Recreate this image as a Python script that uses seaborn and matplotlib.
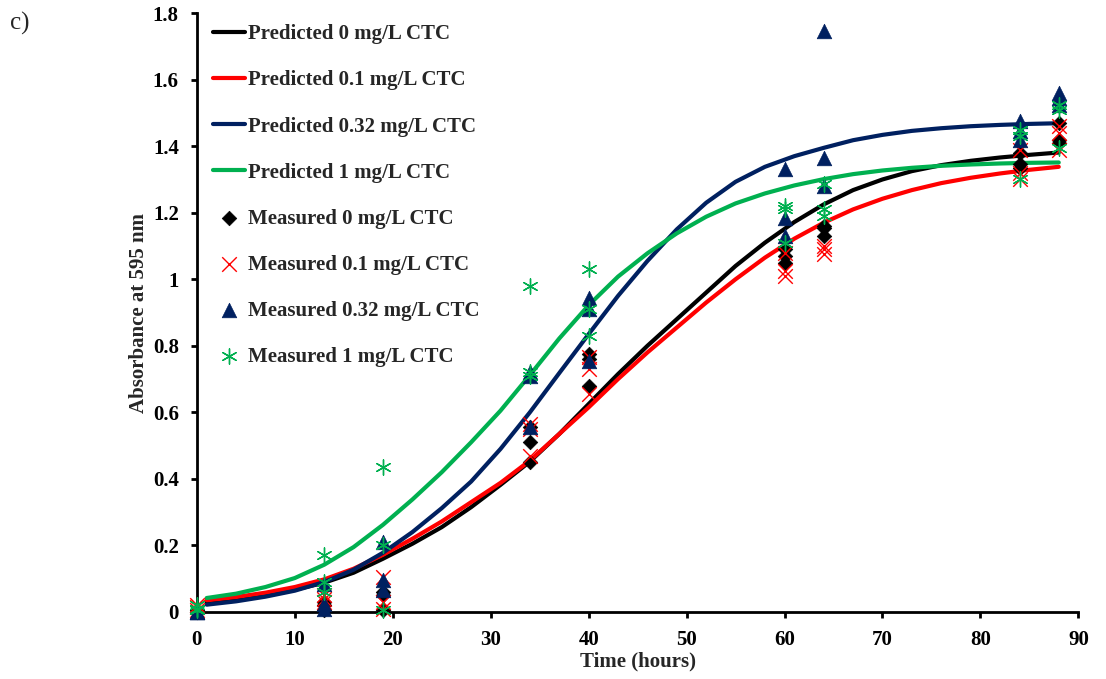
import numpy as np
import pandas as pd
import matplotlib
matplotlib.use("Agg")
import matplotlib.pyplot as plt
import seaborn as sns
from matplotlib.ticker import FuncFormatter, MultipleLocator

# ---------------- data ----------------
curve_t = [1, 4, 7, 10, 13, 16, 19, 22, 25, 28, 31, 34, 37, 40, 43, 46, 49, 52,
           55, 58, 61, 64, 67, 70, 73, 76, 79, 82, 85, 88]
pred_0 = [0.030, 0.040, 0.052, 0.067, 0.088, 0.118, 0.160, 0.205, 0.255, 0.315,
          0.382, 0.452, 0.535, 0.625, 0.715, 0.800, 0.880, 0.960, 1.040, 1.110,
          1.172, 1.225, 1.268, 1.300, 1.325, 1.343, 1.356, 1.366, 1.374, 1.381]
pred_01 = [0.035, 0.045, 0.058, 0.075, 0.098, 0.130, 0.172, 0.220, 0.272, 0.330,
           0.388, 0.455, 0.535, 0.615, 0.700, 0.780, 0.855, 0.930, 1.000, 1.065,
           1.122, 1.170, 1.210, 1.242, 1.268, 1.289, 1.305, 1.318, 1.329, 1.338]
pred_032 = [0.022, 0.032, 0.046, 0.064, 0.090, 0.127, 0.178, 0.240, 0.312, 0.392,
            0.490, 0.600, 0.718, 0.835, 0.950, 1.055, 1.150, 1.230, 1.293, 1.338,
            1.370, 1.395, 1.418, 1.434, 1.446, 1.454, 1.460, 1.464, 1.467, 1.469]
pred_1 = [0.042, 0.055, 0.075, 0.102, 0.142, 0.195, 0.262, 0.338, 0.420, 0.510,
          0.605, 0.712, 0.822, 0.922, 1.008, 1.078, 1.138, 1.188, 1.228, 1.258,
          1.282, 1.301, 1.316, 1.327, 1.335, 1.341, 1.345, 1.348, 1.350, 1.351]

meas_t = [0, 13, 19, 34, 40, 60, 64, 84, 88]
meas_0 = [[0.0, 0.0, 0.005], [0.005, 0.02, 0.03], [0.005, 0.05, 0.06],
          [0.45, 0.51, 0.555], [0.68, 0.76, 0.775], [1.05, 1.07, 1.09],
          [1.13, 1.155, 1.16], [1.335, 1.345, 1.38], [1.41, 1.42, 1.47]]
meas_01 = [[0.005, 0.015, 0.02], [0.03, 0.04, 0.05], [0.01, 0.03, 0.105],
           [0.47, 0.55, 0.565], [0.655, 0.73, 0.765], [1.01, 1.025, 1.08],
           [1.075, 1.09, 1.10], [1.30, 1.32, 1.39], [1.39, 1.44, 1.46]]
meas_032 = [[0.0, 0.0, 0.0], [0.01, 0.025, 0.085], [0.065, 0.095, 0.21],
            [0.555, 0.71, 0.72], [0.755, 0.91, 0.945], [1.13, 1.185, 1.33],
            [1.28, 1.365, 1.745], [1.42, 1.445, 1.475], [1.525, 1.545, 1.56]]
meas_1 = [[0.005, 0.01, 0.02], [0.06, 0.09, 0.17], [0.005, 0.20, 0.435],
          [0.71, 0.72, 0.98], [0.83, 0.91, 1.03], [1.11, 1.21, 1.22],
          [1.19, 1.21, 1.285], [1.30, 1.43, 1.45], [1.395, 1.51, 1.525]]

pred_labels = ["Predicted 0 mg/L CTC", "Predicted 0.1 mg/L CTC",
               "Predicted 0.32 mg/L CTC", "Predicted 1 mg/L CTC"]
meas_labels = ["Measured 0 mg/L CTC", "Measured 0.1 mg/L CTC",
               "Measured 0.32 mg/L CTC", "Measured 1 mg/L CTC"]
colors = ["#000000", "#FF0000", "#002060", "#00B050"]

# ---------------- style ----------------
sns.set_style("white")
plt.rcParams["font.family"] = ["Liberation Serif", "DejaVu Serif"]
plt.rcParams["font.weight"] = "bold"

fig = plt.figure(figsize=(11.06, 6.79), dpi=100)
ax = fig.add_axes([0.178, 0.0987, 0.797, 0.882])

preds = [pred_0, pred_01, pred_032, pred_1]
for vals, lab, c in zip(preds, pred_labels, colors):
    sns.lineplot(x=curve_t, y=vals, color=c, linewidth=3.0, label=lab, ax=ax,
                 zorder=2)

def long(meas):
    xs, ys = [], []
    for t, reps in zip(meas_t, meas):
        for v in reps:
            xs.append(t)
            ys.append(v)
    return xs, ys

meas = [meas_0, meas_01, meas_032, meas_1]
markers = ["D", "x", "^", (6, 2, 0)]
sizes = [55, 110, 110, 120]
lws = [0.5, 1.0, 0.5, 1.0]
for m, lab, c, mk, s, lw in zip(meas, meas_labels, colors, markers, sizes, lws):
    xs, ys = long(m)
    if mk in ("x", (6, 2, 0)):
        sns.scatterplot(x=xs, y=ys, marker=mk, color=c, s=s, linewidth=lw,
                        label=lab, ax=ax, zorder=3, clip_on=False)
    else:
        sns.scatterplot(x=xs, y=ys, marker=mk, color=c, s=s, linewidth=lw,
                        edgecolor=c, label=lab, ax=ax, zorder=3, clip_on=False)

ax.set_xlim(0, 90)
ax.set_ylim(0, 1.8)
ax.xaxis.set_major_locator(MultipleLocator(10))
ax.yaxis.set_major_locator(MultipleLocator(0.2))
ax.yaxis.set_major_formatter(FuncFormatter(lambda v, p: "%g" % round(v, 2)))

for side in ["top", "right"]:
    ax.spines[side].set_visible(False)
for side in ["left", "bottom"]:
    ax.spines[side].set_color("black")
    ax.spines[side].set_linewidth(2)
ax.tick_params(axis="both", direction="out", length=4, width=2, colors="black",
               labelsize=15, bottom=True, left=True)
ax.tick_params(axis="y", pad=9)
ax.tick_params(axis="x", pad=9)
for lbl in ax.get_xticklabels() + ax.get_yticklabels():
    lbl.set_fontweight("bold")

ax.set_xlabel("Time (hours)", fontsize=15, fontweight="bold", labelpad=1)
ax.set_ylabel("Absorbance at 595 nm", fontsize=15, fontweight="bold", labelpad=3)

leg = ax.legend(loc="upper left", bbox_to_anchor=(0.009, 0.995), frameon=False,
                fontsize=15, labelspacing=1.25, handlelength=1.55,
                handletextpad=0.12, borderaxespad=0)
for t in leg.get_texts():
    t.set_fontweight("bold")

fig.text(0.009, 0.966, "c)", fontsize=18, fontweight="normal",
         family="Liberation Serif", va="center")

fig.savefig("out.png", dpi=100, facecolor="white")
